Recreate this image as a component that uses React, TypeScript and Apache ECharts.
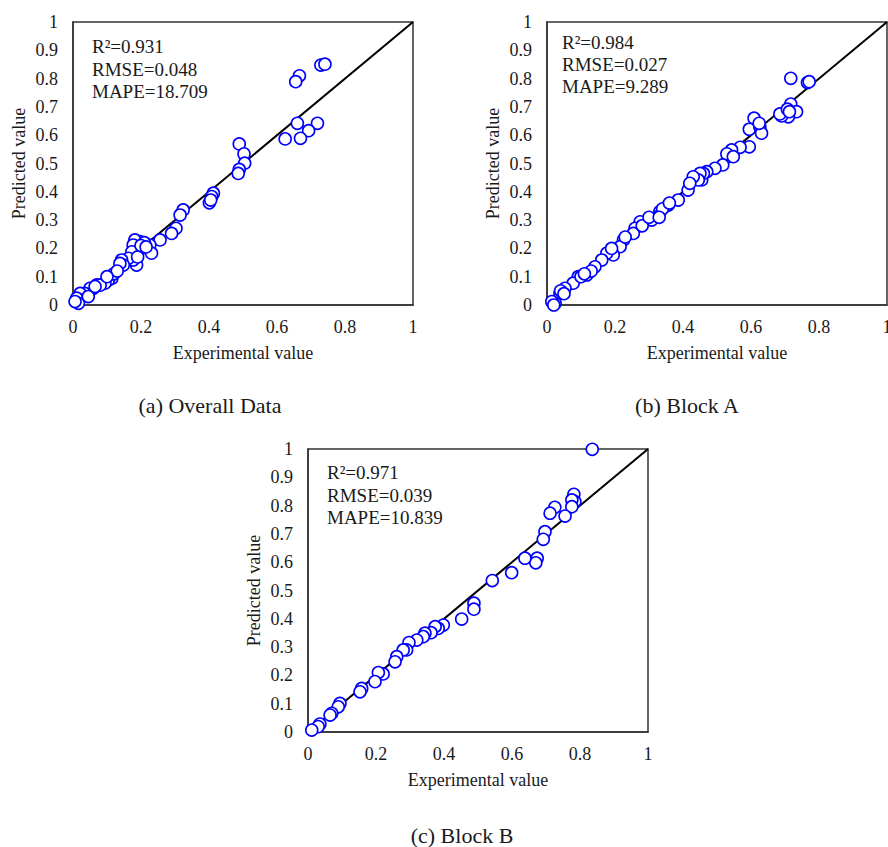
import React, { useEffect, useRef } from "react";
import * as echarts from "echarts";

const overallData: [number, number][] = [
  [0.729, 0.848], [0.741, 0.851], [0.666, 0.81], [0.655, 0.789], [0.66, 0.642], [0.719, 0.642],
  [0.693, 0.616], [0.669, 0.589], [0.624, 0.587],
  [0.489, 0.569], [0.503, 0.534], [0.505, 0.501], [0.489, 0.479], [0.486, 0.465],
  [0.413, 0.395], [0.408, 0.383], [0.401, 0.361], [0.405, 0.371],
  [0.324, 0.336], [0.315, 0.318], [0.303, 0.271], [0.29, 0.253], [0.256, 0.23], [0.226, 0.212], [0.231, 0.183],
  [0.197, 0.224], [0.182, 0.23], [0.202, 0.2], [0.192, 0.194], [0.177, 0.212], [0.173, 0.188],
  [0.187, 0.141], [0.177, 0.159], [0.163, 0.165], [0.143, 0.159], [0.148, 0.141], [0.138, 0.147],
  [0.114, 0.094], [0.104, 0.088], [0.094, 0.077], [0.07, 0.071], [0.06, 0.059], [0.05, 0.059],
  [0.035, 0.041], [0.021, 0.041], [0.011, 0.024], [0.016, 0.006], [0.006, 0.012],
  [0.12, 0.11], [0.08, 0.07], [0.045, 0.03], [0.21, 0.22], [0.19, 0.17], [0.13, 0.12],
  [0.1, 0.1], [0.065, 0.065], [0.2, 0.21], [0.215, 0.205],
];

const blockAData: [number, number][] = [
  [0.717, 0.801], [0.766, 0.786], [0.771, 0.789],
  [0.717, 0.71], [0.734, 0.683], [0.71, 0.665], [0.69, 0.668], [0.685, 0.675], [0.707, 0.692], [0.713, 0.683],
  [0.609, 0.66], [0.595, 0.621], [0.626, 0.63], [0.631, 0.607], [0.624, 0.642],
  [0.595, 0.559], [0.568, 0.557], [0.543, 0.548], [0.533, 0.524], [0.529, 0.534], [0.548, 0.524],
  [0.517, 0.495], [0.494, 0.483], [0.47, 0.471], [0.455, 0.442], [0.46, 0.465],
  [0.45, 0.465], [0.445, 0.442], [0.43, 0.453], [0.415, 0.406], [0.386, 0.371], [0.357, 0.353],
  [0.332, 0.33], [0.327, 0.312], [0.308, 0.3], [0.274, 0.294], [0.259, 0.271], [0.254, 0.253],
  [0.225, 0.23], [0.215, 0.206], [0.195, 0.177], [0.176, 0.183], [0.161, 0.159], [0.141, 0.135],
  [0.117, 0.106], [0.092, 0.1], [0.077, 0.077], [0.053, 0.059], [0.038, 0.041], [0.024, 0.006],
  [0.014, 0.012], [0.04, 0.05], [0.1, 0.1], [0.13, 0.12], [0.19, 0.2], [0.23, 0.24], [0.28, 0.28],
  [0.34, 0.34], [0.36, 0.36], [0.42, 0.43], [0.02, 0.0], [0.05, 0.04], [0.11, 0.11], [0.3, 0.31], [0.33, 0.31],
];

const blockBData: [number, number][] = [
  [0.836, 0.999],
  [0.782, 0.84], [0.785, 0.814], [0.776, 0.82], [0.776, 0.796], [0.756, 0.763], [0.726, 0.794], [0.712, 0.773],
  [0.697, 0.708], [0.692, 0.681], [0.674, 0.614], [0.67, 0.598], [0.638, 0.614], [0.599, 0.563],
  [0.542, 0.535], [0.488, 0.455], [0.488, 0.434], [0.452, 0.399],
  [0.398, 0.378], [0.383, 0.366], [0.374, 0.372], [0.362, 0.351], [0.344, 0.349], [0.339, 0.337],
  [0.32, 0.325], [0.297, 0.316], [0.29, 0.29], [0.28, 0.29], [0.261, 0.266], [0.256, 0.248],
  [0.221, 0.205], [0.207, 0.21], [0.197, 0.178], [0.158, 0.154], [0.153, 0.142], [0.094, 0.101],
  [0.089, 0.089], [0.07, 0.066], [0.065, 0.06], [0.035, 0.028], [0.03, 0.019], [0.011, 0.007],
];

const panelStats: string[][] = [
  ["R\u00B2=0.931", "RMSE=0.048", "MAPE=18.709"],
  ["R\u00B2=0.984", "RMSE=0.027", "MAPE=9.289"],
  ["R\u00B2=0.971", "RMSE=0.039", "MAPE=10.839"],
];
const panelCaptions: string[] = ["(a) Overall Data", "(b) Block A", "(c) Block B"];
const xAxisName = "Experimental value";
const yAxisName = "Predicted value";
const diagonal: [number, number][] = [[0, 0], [1, 1]];

const FONT = '"Liberation Serif", "Times New Roman", serif';

export default function App() {
  const ref = useRef<HTMLDivElement>(null);
  useEffect(() => {
    if (!ref.current) return;
    const chart = echarts.init(ref.current, undefined, { renderer: "svg" });
    const grids = [
      { left: 73, top: 22, width: 340, height: 283 },
      { left: 547, top: 22, width: 340, height: 283 },
      { left: 308, top: 449, width: 340, height: 283 },
    ];
    const datasets = [overallData, blockAData, blockBData];
    const statPos = [
      { x: 92, y: [46, 69, 91] },
      { x: 562, y: [42, 64, 86] },
      { x: 327, y: [472, 495, 517] },
    ];
    const captionPos = [
      { x: 210, y: 405 },
      { x: 687, y: 405 },
      { x: 462, y: 835 },
    ];
    const textColor = "#1a1a1a";
    const graphic: any[] = [];
    panelStats.forEach((lines, i) => {
      lines.forEach((t, j) => {
        graphic.push({
          type: "text",
          x: statPos[i].x,
          y: statPos[i].y[j],
          style: {
            text: t,
            fontFamily: FONT,
            fontSize: 19,
            fill: textColor,
            verticalAlign: "middle",
          },
        });
      });
    });
    panelCaptions.forEach((t, i) => {
      graphic.push({
        type: "text",
        x: captionPos[i].x,
        y: captionPos[i].y,
        style: {
          text: t,
          fontFamily: FONT,
          fontSize: 22,
          fill: textColor,
          align: "center",
          verticalAlign: "middle",
        },
      });
    });
    const option: any = {
      animation: false,
      backgroundColor: "#fff",
      grid: grids.map((g) => ({
        ...g,
        show: true,
        containLabel: false,
        outerBoundsMode: "none",
        borderColor: "#333",
        borderWidth: 1.5,
        backgroundColor: "transparent",
      })),
      xAxis: grids.map((_, i) => ({
        type: "value",
        gridIndex: i,
        min: 0,
        max: 1,
        interval: 0.2,
        name: xAxisName,
        nameLocation: "middle",
        nameGap: 39,
        nameTextStyle: { fontFamily: FONT, fontSize: 18, color: textColor },
        axisLine: { show: true, onZero: false, lineStyle: { color: "#333", width: 1.5 } },
        axisTick: { show: false },
        splitLine: { show: false },
        axisLabel: { margin: 13, fontFamily: FONT, fontSize: 18, color: textColor },
      })),
      yAxis: grids.map((_, i) => ({
        type: "value",
        gridIndex: i,
        min: 0,
        max: 1,
        interval: 0.1,
        name: yAxisName,
        nameLocation: "middle",
        nameGap: 45,
        nameRotate: 90,
        nameTextStyle: { fontFamily: FONT, fontSize: 18, color: textColor },
        axisLine: { show: true, onZero: false, lineStyle: { color: "#333", width: 1.5 } },
        axisTick: { show: false },
        splitLine: { show: false },
        axisLabel: { margin: 15, fontFamily: FONT, fontSize: 18, color: textColor },
      })),
      series: [
        ...grids.map((_, i) => ({
          type: "line",
          xAxisIndex: i,
          yAxisIndex: i,
          data: diagonal,
          symbol: "none",
          lineStyle: { color: "#000", width: 2 },
          z: 2,
          silent: true,
        })),
        ...grids.map((_, i) => ({
          type: "scatter",
          xAxisIndex: i,
          yAxisIndex: i,
          data: datasets[i],
          symbol: "circle",
          symbolSize: 12,
          clip: false,
          itemStyle: { color: "#fff", borderColor: "#0000ff", borderWidth: 1.6, opacity: 1 },
          z: 3,
        })),
      ],
      graphic,
    };
    chart.setOption(option);
    return () => chart.dispose();
  }, []);
  return (
    <div
      ref={ref}
      style={{ position: "absolute", left: 0, top: 0, width: 888, height: 847 }}
    />
  );
}
